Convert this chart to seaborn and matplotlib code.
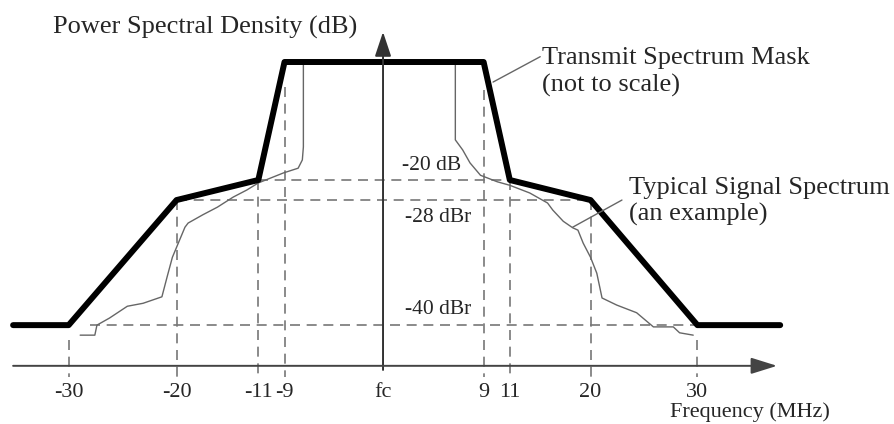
import numpy as np
import pandas as pd
import matplotlib
matplotlib.use("Agg")
import matplotlib.pyplot as plt
import seaborn as sns

# positions are "not to scale": x roughly in MHz, y in nominal display levels
tick_pos = [-30, -19.7, -11.9, -9.4, 0, 9.6, 12.1, 19.8, 30]
tick_labels = ["-30", "-20", "-11", "-9", "fc", "9", "11", "20", "30"]

# display level for 0 / -20 / -28 / -40 dBr
lvl_0, lvl_20, lvl_28, lvl_40 = 0.0, -20.0, -23.4, -44.6

mask_x = [-35.3, -30, -19.7, -11.9, -9.4, 9.6, 12.1, 19.8, 30, 37.9]
mask_y = [lvl_40, lvl_40, lvl_28, lvl_20, lvl_0, lvl_0, lvl_20, lvl_28, lvl_40, lvl_40]

sig_x = [-28.9, -27.5, -27.3, -26.1, -24.4, -22.9, -21.1, -20.6, -20.1, -19.7,
         -18.9, -18.6, -17.2, -15.8, -14.3, -13.0, -11.9, -9.5, -8.1, -7.7,
         -7.6, -7.6, 6.9, 6.9, 7.6, 8.3, 9.3, 10.9, 12.1, 14.0, 15.7, 16.2,
         17.2, 18.1, 18.6, 19.1, 19.8, 20.4, 20.9, 22.3, 24.2, 25.8, 27.7,
         28.3, 29.6]
sig_y = [-46.3, -46.3, -44.6, -43.4, -41.4, -40.9, -39.8, -36.4, -33.1, -31.4,
         -28.0, -27.3, -25.9, -24.6, -22.9, -21.7, -20.5, -18.8, -18.0, -16.6,
         -14.4, -0.2, -0.2, -13.2, -14.9, -17.1, -19.2, -20.3, -20.9, -22.2,
         -23.9, -25.1, -27.0, -28.1, -28.5, -30.7, -33.1, -35.8, -40.0, -41.2,
         -42.5, -44.9, -44.9, -45.9, -46.3]

# vertical dashed guides: top end for each tick (the fc one is the axis itself)
guide_top = [-47.1, lvl_28, lvl_20, -4.2, None, -4.7, lvl_20, lvl_28, -47.1]
guide_bottom = -53.4

# horizontal dashed guides: level, x from, x to
hguide_lvl = [lvl_20, lvl_28, lvl_40]
hguide_x0 = [-11.9, -19.7, -28.0]
hguide_x1 = [12.1, 19.8, 30.0]

axis_y = -51.5

sns.set_style("white")
plt.rcParams["font.family"] = ["Liberation Serif", "DejaVu Serif"]

fig = plt.figure(figsize=(8.94, 4.24), dpi=100)
ax = fig.add_axes([0, 0, 1, 1])
ax.set_xlim(-36.55, 48.76)
ax.set_ylim(-61.36, 10.51)
ax.axis("off")

dash = (0, (6, 4))
for xp, top in zip(tick_pos, guide_top):
    if top is None:
        continue
    ax.plot([xp, xp], [top, guide_bottom], color="#777777", lw=1.2, linestyle=dash)
for lv, x0, x1 in zip(hguide_lvl, hguide_x0, hguide_x1):
    ax.plot([x0, x1], [lv, lv], color="#777777", lw=1.2, linestyle=dash)

# axes with arrows
ax.annotate("", xy=(0, 5.1), xytext=(0, -52.2),
            arrowprops=dict(arrowstyle="-|>,head_length=1.5,head_width=0.5",
                            color="#333333", lw=1.4, mutation_scale=10,
                            shrinkA=0, shrinkB=0))
ax.annotate("", xy=(37.6, axis_y), xytext=(-35.3, axis_y),
            arrowprops=dict(arrowstyle="-|>,head_length=1.6,head_width=0.5",
                            color="#444444", lw=1.4, mutation_scale=10,
                            shrinkA=0, shrinkB=0))

sig = pd.DataFrame({"x": sig_x, "y": sig_y})
sns.lineplot(data=sig, x="x", y="y", sort=False, estimator=None,
             color="#666666", lw=1.0, ax=ax)
mask = pd.DataFrame({"x": mask_x, "y": mask_y})
sns.lineplot(data=mask, x="x", y="y", sort=False, estimator=None,
             color="black", lw=4.3, ax=ax)
ax.set_xlim(-36.55, 48.76)
ax.set_ylim(-61.36, 10.51)

# leader lines
ax.plot([10.5, 15.0], [-3.4, 0.9], color="#666666", lw=1.0)
ax.plot([18.1, 22.8], [-28.0, -23.4], color="#666666", lw=1.0)

for xp, lab in zip(tick_pos, tick_labels):
    ax.text(xp, -56.1, lab, ha="center", va="center", fontsize=16)

ax.text(-31.5, 5.8, "Power Spectral Density (dB)", ha="left", va="center", fontsize=19)
ax.text(27.4, -59.3, "Frequency (MHz)", ha="left", va="center", fontsize=16)
ax.text(15.2, 0.7, "Transmit Spectrum Mask", ha="left", va="center", fontsize=19)
ax.text(15.2, -3.9, "(not to scale)", ha="left", va="center", fontsize=19)
ax.text(23.5, -21.4, "Typical Signal Spectrum", ha="left", va="center", fontsize=19)
ax.text(23.5, -25.9, "(an example)", ha="left", va="center", fontsize=19)
ax.text(1.8, -17.5, "-20 dB", ha="left", va="center", fontsize=15.5)
ax.text(2.1, -26.4, "-28 dBr", ha="left", va="center", fontsize=15.5)
ax.text(2.1, -42.0, "-40 dBr", ha="left", va="center", fontsize=15.5)

fig.savefig("out.png", dpi=100)
